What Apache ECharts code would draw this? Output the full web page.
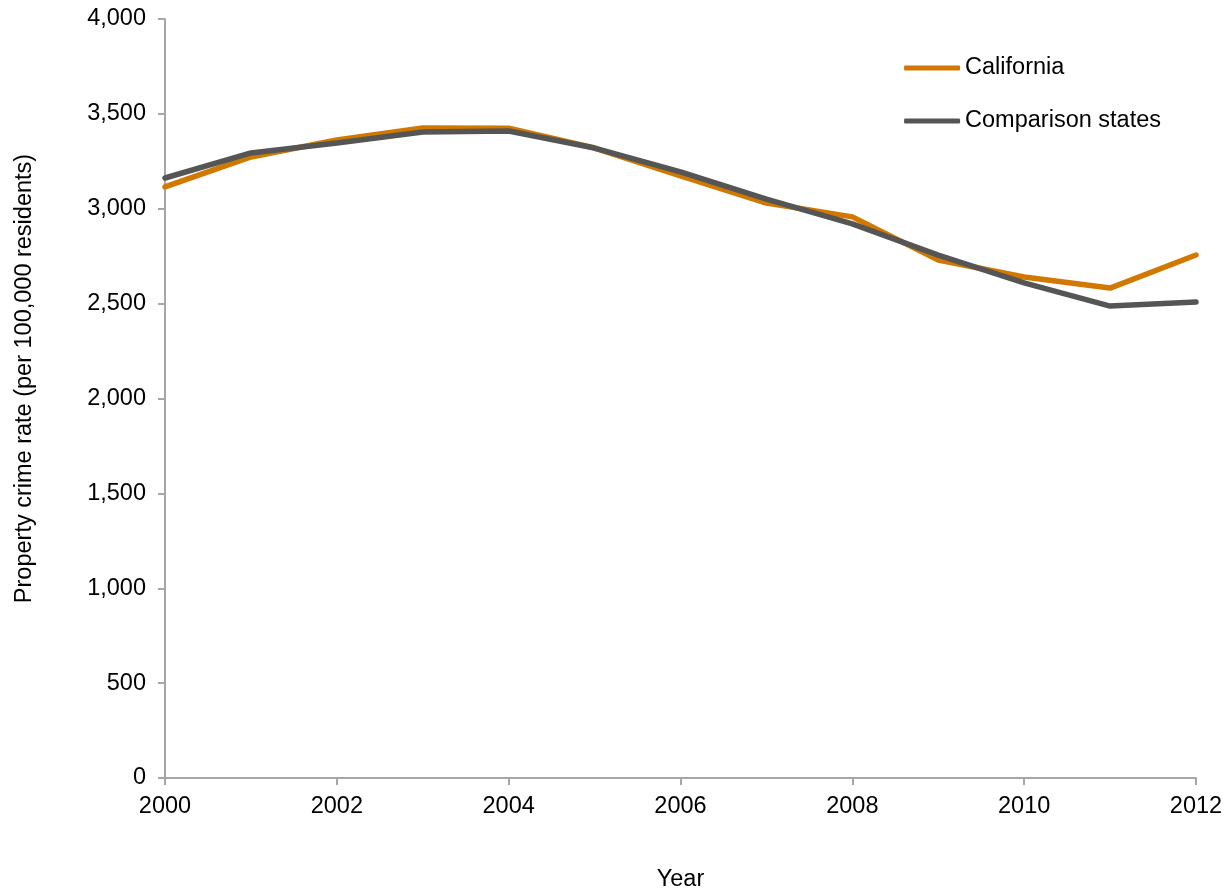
<!DOCTYPE html>
<html>
<head>
<meta charset="utf-8">
<script src="https://cdn.jsdelivr.net/npm/echarts@6/dist/echarts.min.js"></script>
<style>html,body{margin:0;padding:0;background:#fff}#c{width:1232px;height:892px}</style>
</head>
<body>
<div id="c"></div>
<script>
const years = [2000,2001,2002,2003,2004,2005,2006,2007,2008,2009,2010,2011,2012];
const california = [3115,3273,3362,3426,3424,3320,3173,3030,2957,2730,2640,2582,2756];
const comparison = [3162,3294,3346,3404,3410,3320,3194,3051,2920,2756,2609,2487,2509];
const seriesNames = ['California','Comparison states'];
const yTicks = [0,500,1000,1500,2000,2500,3000,3500,4000];

const chart = echarts.init(document.getElementById('c'));
const font = 'Liberation Sans, Arial, sans-serif';
const fs = 23.5;
chart.setOption({
  animation:false,
  textStyle:{fontFamily:font},
  grid:{left:165,right:36,top:19,bottom:114,containLabel:false,outerBoundsMode:'none'},
  legend:{
    orient:'vertical', right:66, top:51, itemGap:29,
    icon:'roundRect', itemWidth:56, itemHeight:5,
    textStyle:{fontSize:fs,color:'#000',fontFamily:font},
    data:seriesNames
  },
  xAxis:{
    type:'value', min:2000, max:2012, interval:2,
    name:'Year', nameLocation:'middle', nameGap:90,
    nameTextStyle:{fontSize:fs,color:'#000'},
    axisLine:{lineStyle:{color:'#a6a6a6',width:2}},
    axisTick:{show:true,length:7,lineStyle:{color:'#a6a6a6',width:2}},
    axisLabel:{fontSize:fs,color:'#000',margin:17,formatter:v=>String(v)},
    splitLine:{show:false}
  },
  yAxis:{
    type:'value', min:yTicks[0], max:yTicks[yTicks.length-1], interval:500,
    name:'Property crime rate (per 100,000 residents)', nameLocation:'middle', nameGap:128,
    nameTextStyle:{fontSize:fs,color:'#000',padding:[0,0,0,40]},
    axisLine:{show:true,lineStyle:{color:'#a6a6a6',width:2}},
    axisTick:{show:true,length:7,lineStyle:{color:'#a6a6a6',width:2}},
    axisLabel:{fontSize:fs,color:'#000',margin:19,formatter:v=>v.toLocaleString('en-US')},
    splitLine:{show:false}
  },
  series:[
    {name:seriesNames[0],type:'line',showSymbol:false,symbol:'none',
     data:years.map((y,i)=>[y,california[i]]),
     lineStyle:{color:'#d07800',width:5.5,cap:'round',join:'round'},itemStyle:{color:'#d07800'}},
    {name:seriesNames[1],type:'line',showSymbol:false,symbol:'none',
     data:years.map((y,i)=>[y,comparison[i]]),
     lineStyle:{color:'#555555',width:5.5,cap:'round',join:'round'},itemStyle:{color:'#555555'}}
  ]
});
</script>
</body>
</html>
